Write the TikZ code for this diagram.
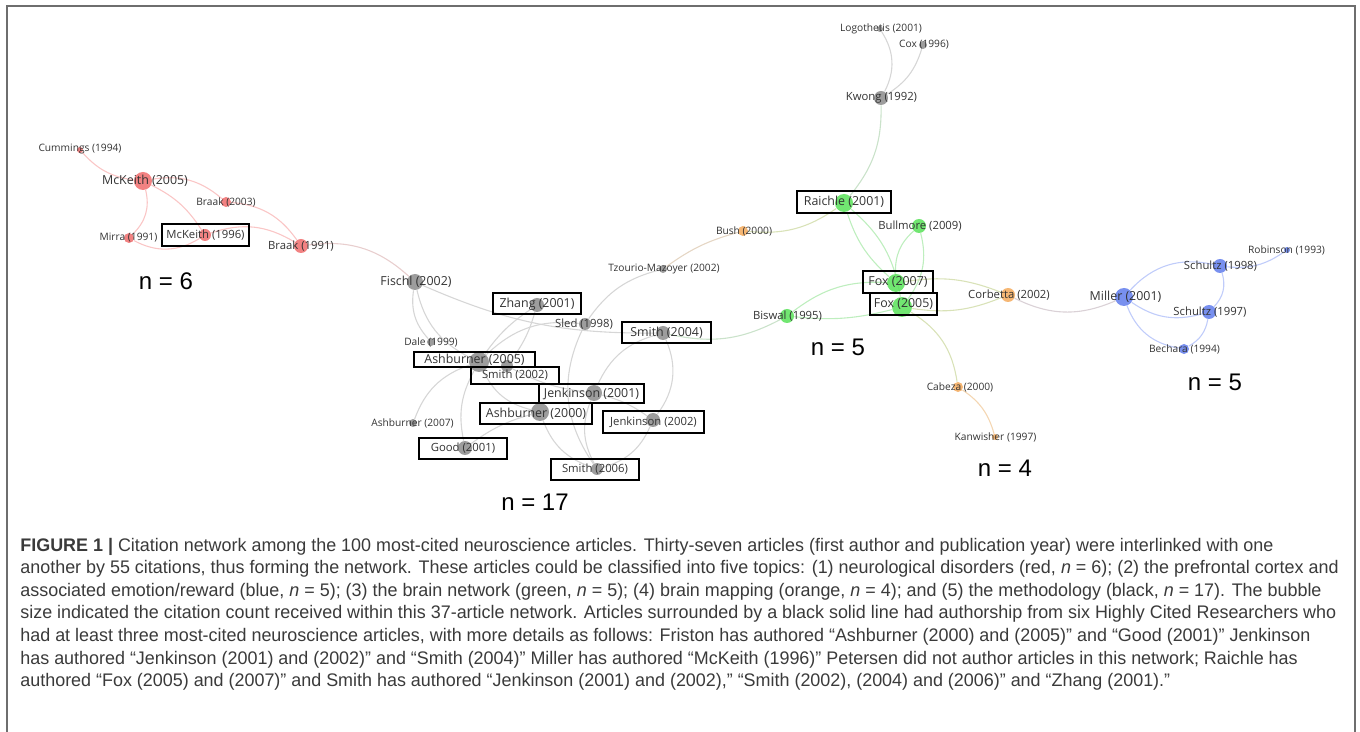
\documentclass[tikz,border=0pt]{standalone}
\usepackage{fontspec}
\setmainfont{Liberation Sans}
\newfontfamily\capfont[FakeStretch=0.985]{Liberation Sans}
\newfontfamily\lblfont{Open Sans}
\usepackage{xcolor}
\definecolor{bubRed}{RGB}{240,108,108}
\definecolor{bubGreen}{RGB}{88,226,88}
\definecolor{bubBlue}{RGB}{96,124,236}
\definecolor{bubOrange}{RGB}{244,170,92}
\definecolor{bubGray}{RGB}{140,140,140}
\definecolor{edgRed}{RGB}{250,198,198}
\definecolor{edgGray}{RGB}{214,214,214}
\definecolor{edgGreen}{RGB}{190,238,190}
\definecolor{edgBlue}{RGB}{192,204,250}
\definecolor{edgOrange}{RGB}{244,214,178}
\colorlet{edgRedGray}{edgRed!50!edgGray}
\colorlet{edgGreenGray}{edgGreen!50!edgGray}
\colorlet{edgGreenOrange}{edgGreen!50!edgOrange}
\colorlet{edgOrangeGray}{edgOrange!50!edgGray}
\colorlet{edgOrangeBlue}{edgOrange!50!edgBlue}
\definecolor{textGray}{RGB}{51,51,51}
\definecolor{capGray}{RGB}{58,58,58}
\definecolor{frameGray}{RGB}{110,110,110}
\usepackage{tikz}
\usetikzlibrary{backgrounds}

\begin{document}
\begin{tikzpicture}[x=0.5pt, y=-0.5pt,
  bub/.style={circle, inner sep=0pt, minimum size=#1pt, opacity=0.85},
  lblS/.style={inner sep=0pt, text=textGray, font=\lblfont\fontsize{5.1pt}{6pt}\selectfont},
  lblM/.style={inner sep=0pt, text=textGray, font=\lblfont\fontsize{5.65pt}{6.5pt}\selectfont},
  lblL/.style={inner sep=0pt, text=textGray, font=\lblfont\fontsize{6.2pt}{7pt}\selectfont},
  boxed/.style={draw=black, line width=1pt},
  nlabel/.style={inner sep=0pt, font=\fontsize{12pt}{14pt}\selectfont},
  capline/.style={anchor=west, inner sep=0pt, text=capGray, font=\capfont\fontsize{9.1pt}{11pt}\selectfont},
  edg/.style={line width=0.55pt}]
\useasboundingbox (0,0) rectangle (1360,732);
\draw [frameGray, line width=1pt] (7,732) -- (7,6) -- (1355,6) -- (1355,732);

% neurological disorders (red)
\node[bub=3, fill=bubRed] (cum94) at (80,150) {};
\node[bub=9, fill=bubRed] (mk05) at (143,181) {};
\node[bub=5, fill=bubRed] (brk03) at (226,202) {};
\node[bub=5, fill=bubRed] (mir91) at (129,238) {};
\node[bub=6, fill=bubRed] (mk96) at (205,235) {};
\node[bub=7, fill=bubRed] (brk91) at (301,246) {};
\node[lblS] (cum94l) at (80,149) {Cummings (1994)};
\node[lblL] (mk05l) at (145,181) {McKeith (2005)};
\node[lblS] (brk03l) at (226,202) {Braak (2003)};
\node[lblS] (mir91l) at (128.5,238) {Mirra (1991)};
\node[lblM, boxed, minimum width=43.5pt, minimum height=11pt] (mk96l) at (205.5,235.5) {McKeith (1996)};
\node[lblM] (brk91l) at (301,246) {Braak (1991)};
\node[nlabel] (n6) at (166,281) {n = 6};

% methodology (black)
\node[bub=8, fill=bubGray] (fis02) at (415,282) {};
\node[bub=7, fill=bubGray] (zha01) at (537,305) {};
\node[bub=4, fill=bubGray] (tzo02) at (663,269) {};
\node[bub=6, fill=bubGray] (sld98) at (585,324) {};
\node[bub=7, fill=bubGray] (smi04) at (663,333) {};
\node[bub=4, fill=bubGray] (dal99) at (431,342) {};
\node[bub=10, fill=bubGray] (ash05) at (479,362) {};
\node[bub=6, fill=bubGray] (smi02) at (507,366) {};
\node[bub=8, fill=bubGray] (jen01) at (594,393) {};
\node[bub=9, fill=bubGray] (ash00) at (540,412) {};
\node[bub=7, fill=bubGray] (jen02) at (653,420) {};
\node[bub=4, fill=bubGray] (ash07) at (413,423) {};
\node[bub=7, fill=bubGray] (goo01) at (465,448) {};
\node[bub=6, fill=bubGray] (smi06) at (597,469) {};
\node[bub=3, fill=bubGray] (log01) at (880,29) {};
\node[bub=4, fill=bubGray] (cox96) at (923,45) {};
\node[bub=7, fill=bubGray] (kwo92) at (881,98) {};
\node[lblL] (fis02l) at (416,282) {Fischl (2002)};
\node[lblL, boxed, minimum width=44pt, minimum height=10.5pt] (zha01l) at (537,304) {Zhang (2001)};
\node[lblS] (tzo02l) at (664,269) {Tzourio-Mazoyer (2002)};
\node[lblM] (sld98l) at (584,324) {Sled (1998)};
\node[lblL, boxed, minimum width=44.5pt, minimum height=10.5pt] (smi04l) at (666.5,332.5) {Smith (2004)};
\node[lblS] (dal99l) at (431,342) {Dale (1999)};
\node[lblL, boxed, minimum width=60.5pt, minimum height=7.5pt] (ash05l) at (474.5,360) {Ashburner (2005)};
\node[lblM, boxed, minimum width=44pt, minimum height=8.5pt] (smi02l) at (515,375.5) {Smith (2002)};
\node[lblL, boxed, minimum width=52.5pt, minimum height=9.5pt] (jen01l) at (591.5,393.5) {Jenkinson (2001)};
\node[lblL, boxed, minimum width=56pt, minimum height=10.5pt] (ash00l) at (536,413.5) {Ashburner (2000)};
\node[lblM, boxed, minimum width=50.5pt, minimum height=11pt] (jen02l) at (653.5,422) {Jenkinson (2002)};
\node[lblS] (ash07l) at (412.5,423) {Ashburner (2007)};
\node[lblM, boxed, minimum width=44pt, minimum height=10.5pt] (goo01l) at (463,448.5) {Good (2001)};
\node[lblM, boxed, minimum width=44pt, minimum height=10.5pt] (smi06l) at (595,469.5) {Smith (2006)};
\node[lblS] (log01l) at (881,29) {Logothetis (2001)};
\node[lblS] (cox96l) at (924,45) {Cox (1996)};
\node[lblM] (kwo92l) at (881.5,98) {Kwong (1992)};
\node[nlabel] (n17) at (535,502) {n = 17};

% brain network (green) and brain mapping (orange)
\node[bub=9, fill=bubGreen] (rai01) at (844,203) {};
\node[bub=7, fill=bubGreen] (bul09) at (919,226) {};
\node[bub=5, fill=bubOrange] (bus00) at (743,231) {};
\node[bub=9, fill=bubGreen] (fox07) at (896,283) {};
\node[bub=10, fill=bubGreen] (fox05) at (902,307) {};
\node[bub=7, fill=bubOrange] (cor02) at (1008,295) {};
\node[bub=7, fill=bubGreen] (bis95) at (787,316) {};
\node[bub=5, fill=bubOrange] (cab00) at (958,387) {};
\node[bub=3, fill=bubOrange] (kan97) at (995,437) {};
\node[lblL, boxed, minimum width=47pt, minimum height=11pt] (rai01l) at (844,202) {Raichle (2001)};
\node[lblM] (bul09l) at (920,226) {Bullmore (2009)};
\node[lblS] (bus00l) at (744,231) {Bush (2000)};
\node[lblL, boxed, minimum width=35pt, minimum height=11pt] (fox07l) at (898,282) {Fox (2007)};
\node[lblL, boxed, minimum width=33.5pt, minimum height=11pt] (fox05l) at (903.5,304) {Fox (2005)};
\node[lblM] (cor02l) at (1009,295) {Corbetta (2002)};
\node[lblM] (bis95l) at (787.5,316) {Biswal (1995)};
\node[lblS] (cab00l) at (960,387) {Cabeza (2000)};
\node[lblS] (kan97l) at (995.5,437) {Kanwisher (1997)};
\node[nlabel] (n5g) at (838,347) {n = 5};
\node[nlabel] (n4) at (1005,468) {n = 4};

% prefrontal cortex and emotion/reward (blue)
\node[bub=3, fill=bubBlue] (rob93) at (1287,250) {};
\node[bub=7, fill=bubBlue] (sch98) at (1220,266) {};
\node[bub=9, fill=bubBlue] (mil01) at (1124,297) {};
\node[bub=7, fill=bubBlue] (sch97) at (1209,312) {};
\node[bub=5, fill=bubBlue] (bec94) at (1184,349) {};
\node[lblS] (rob93l) at (1286.5,250) {Robinson (1993)};
\node[lblM] (sch98l) at (1220.5,266) {Schultz (1998)};
\node[lblL] (mil01l) at (1125.5,297) {Miller (2001)};
\node[lblM] (sch97l) at (1210,312) {Schultz (1997)};
\node[lblS] (bec94l) at (1184.5,349) {Bechara (1994)};
\node[nlabel] (n5b) at (1215,382) {n = 5};

% citations
\begin{scope}[on background layer]
\draw [edg, edgRed] (cum94) edge [bend right=20] (mk05);
\draw [edg, edgRed] (mk05) edge [bend left=25] (brk03);
\draw [edg, edgRed] (mk05) edge [bend left=15] (mk96);
\draw [edg, edgRed] (mk05) edge [bend left=30] (mir91);
\draw [edg, edgRed] (brk03) edge [bend left=25] (brk91);
\draw [edg, edgRed] (mir91) edge [bend right=30] (mk96);
\draw [edg, edgRed] (mk96) edge [bend left=25] (brk91);
\draw [edg, edgRedGray] (brk91) edge [bend left=25] (fis02);
\draw [edg, edgGray] (fis02) edge [bend right=25] (dal99);
\draw [edg, edgGray] (fis02) edge [bend right=25] (ash05);
\draw [edg, edgGray] (fis02) edge [bend right=12] (smi04);
\draw [edg, edgGray] (zha01) edge [bend right=10] (ash05);
\draw [edg, edgGray] (zha01) edge [bend left=10] (smi02);
\draw [edg, edgGray] (tzo02) edge [bend right=20] (sld98);
\draw [edg, edgGray] (ash05) edge [bend left=25] (sld98);
\draw [edg, edgGray] (ash05) edge [bend right=25] (ash07);
\draw [edg, edgGray] (ash05) edge [bend right=20] (goo01);
\draw [edg, edgGray] (ash05) edge [bend right=25] (ash00);
\draw [edg, edgGray] (ash00) edge [bend right=10] (goo01);
\draw [edg, edgGray] (ash00) edge [bend right=25] (smi06);
\draw [edg, edgGray] (sld98) edge [bend right=30] (smi06);
\draw [edg, edgGray] (smi04) edge [bend right=25] (jen01);
\draw [edg, edgGray] (smi04) edge [bend left=30] (jen02);
\draw [edg, edgGray] (jen01) edge [bend left=10] (jen02);
\draw [edg, edgGray] (jen01) edge [bend right=25] (smi06);
\draw [edg, edgGray] (jen02) edge [bend left=25] (smi06);
\draw [edg, edgGray] (smi02) edge [bend right=10] (jen01);
\draw [edg, edgGray] (kwo92) edge [bend right=30] (log01);
\draw [edg, edgGray] (kwo92) edge [bend right=20] (cox96);
\draw [edg, edgGreenGray] (rai01) edge [bend right=20] (kwo92);
\draw [edg, edgGreenOrange] (bus00) edge [bend right=20] (rai01);
\draw [edg, edgOrangeGray] (tzo02) edge [bend left=10] (bus00);
\draw [edg, edgGreen] (rai01) edge [bend right=15] (fox07);
\draw [edg, edgGreen] (rai01) edge [bend left=20] (fox05);
\draw [edg, edgGreen] (bul09) edge [bend right=25] (fox07);
\draw [edg, edgGreen] (bul09) edge [bend left=25] (fox05);
\draw [edg, edgGreen] (bis95) edge [bend left=20] (fox07);
\draw [edg, edgGreen] (bis95) edge [bend right=10] (fox05);
\draw [edg, edgGreenGray] (smi04) edge [bend right=20] (bis95);
\draw [edg, edgGreenOrange] (fox07) edge [bend left=15] (cor02);
\draw [edg, edgGreenOrange] (fox05) edge [bend right=15] (cor02);
\draw [edg, edgGreenOrange] (fox05) edge [bend left=25] (cab00);
\draw [edg, edgOrange] (cab00) edge [bend left=20] (kan97);
\draw [edg, edgOrangeBlue] (cor02) edge [bend right=25] (mil01);
\draw [edg, edgBlue] (mil01) edge [bend left=30] (sch98);
\draw [edg, edgBlue] (mil01) edge [bend right=25] (sch97);
\draw [edg, edgBlue] (mil01) edge [bend right=30] (bec94);
\draw [edg, edgBlue] (sch98) edge [bend left=30] (sch97);
\draw [edg, edgBlue] (sch97) edge [bend left=25] (bec94);
\draw [edg, edgBlue] (sch98) edge [bend right=20] (rob93);
\end{scope}

% caption
\node[capline] (cap1) at (20,547) {\textbf{FIGURE 1 |} Citation network among the 100 most-cited neuroscience articles. Thirty-seven articles (first author and publication year) were interlinked with one};
\node[capline] (cap2) at (20,569) {another by 55 citations, thus forming the network. These articles could be classified into five topics: (1) neurological disorders (red, \textit{n}~=~6); (2) the prefrontal cortex and};
\node[capline] (cap3) at (20,592) {associated emotion/reward (blue, \textit{n}~=~5); (3) the brain network (green, \textit{n}~=~5); (4) brain mapping (orange, \textit{n}~=~4); and (5) the methodology (black, \textit{n}~=~17). The bubble};
\node[capline] (cap4) at (20,614) {size indicated the citation count received within this 37-article network. Articles surrounded by a black solid line had authorship from six Highly Cited Researchers who};
\node[capline] (cap5) at (20,637) {had at least three most-cited neuroscience articles, with more details as follows: Friston has authored “Ashburner (2000) and (2005)” and “Good (2001)” Jenkinson};
\node[capline] (cap6) at (20,660) {has authored “Jenkinson (2001) and (2002)” and “Smith (2004)” Miller has authored “McKeith (1996)” Petersen did not author articles in this network; Raichle has};
\node[capline] (cap7) at (20,682) {authored “Fox (2005) and (2007)” and Smith has authored “Jenkinson (2001) and (2002),” “Smith (2002), (2004) and (2006)” and “Zhang (2001).”};
\end{tikzpicture}
\end{document}
